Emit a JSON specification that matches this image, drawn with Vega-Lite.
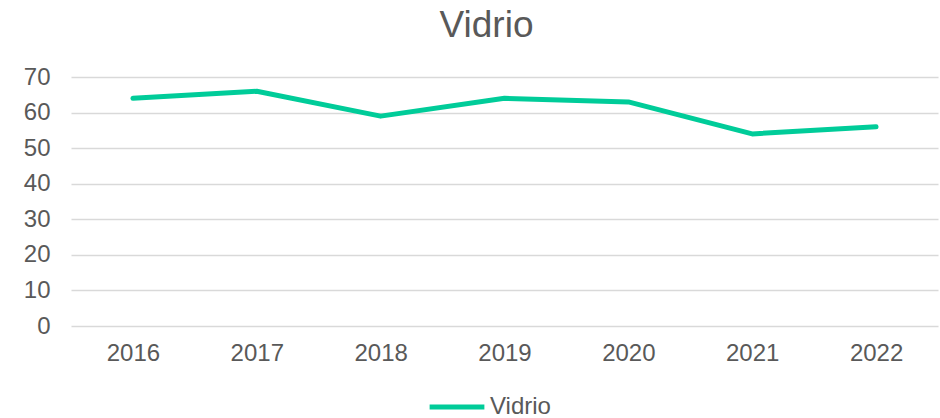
{
  "$schema": "https://vega.github.io/schema/vega-lite/v6.json",
  "width": 867,
  "height": 249,
  "autosize": "none",
  "padding": {"left": 71, "top": 77, "right": 2, "bottom": 92},
  "background": "white",
  "title": {"text": "Vidrio", "anchor": "middle", "fontSize": 37, "font": "Liberation Sans", "fontWeight": "normal", "color": "#595959", "offset": 20, "dx": -18},
  "data": {"values": [
    {"year": "2016", "value": 64, "serie": "Vidrio"},
    {"year": "2017", "value": 66, "serie": "Vidrio"},
    {"year": "2018", "value": 59, "serie": "Vidrio"},
    {"year": "2019", "value": 64, "serie": "Vidrio"},
    {"year": "2020", "value": 63, "serie": "Vidrio"},
    {"year": "2021", "value": 54, "serie": "Vidrio"},
    {"year": "2022", "value": 56, "serie": "Vidrio"}
  ]},
  "mark": {"type": "line", "strokeWidth": 5, "strokeCap": "round", "strokeJoin": "round"},
  "encoding": {
    "x": {"field": "year", "type": "ordinal", "scale": {"paddingInner": 1, "paddingOuter": 0.5},
      "axis": {"title": null, "labelAngle": 0, "ticks": false, "domain": false, "labelFontSize": 24, "labelColor": "#595959", "labelFont": "Liberation Sans", "labelPadding": 15}},
    "y": {"field": "value", "type": "quantitative", "scale": {"domain": [0, 70], "nice": false},
      "axis": {"title": null, "values": [0,10,20,30,40,50,60,70], "ticks": false, "domain": false, "labelFontSize": 24, "labelColor": "#595959", "labelFont": "Liberation Sans", "labelPadding": 21, "gridColor": "#d9d9d9", "gridWidth": 1.5}},
    "color": {"field": "serie", "type": "nominal", "scale": {"range": ["#00CC99"]},
      "legend": {"title": null, "orient": "none", "legendX": 356, "legendY": 300, "padding": 0, "symbolType": "stroke", "symbolSize": 3000, "symbolStrokeWidth": 5, "labelFontSize": 24, "labelColor": "#595959", "labelFont": "Liberation Sans", "labelOffset": 3}}
  },
  "config": {"view": {"stroke": null}}
}
